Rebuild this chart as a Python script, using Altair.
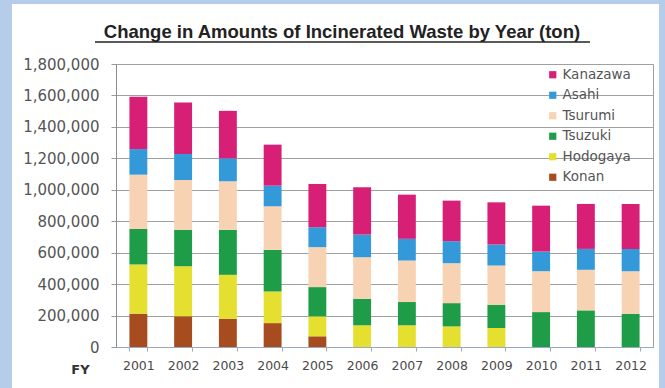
import altair as alt
import pandas as pd

years = ["2001", "2002", "2003", "2004", "2005", "2006", "2007", "2008", "2009", "2010", "2011", "2012"]
konan    = [212000, 195000, 180000, 152000, 68000, 0, 0, 0, 0, 0, 0, 0]
hodogaya = [313000, 319000, 279000, 201000, 127000, 138000, 138000, 131000, 121000, 0, 0, 0]
tsuzuki  = [226000, 231000, 286000, 265000, 186000, 169000, 148000, 148000, 148000, 222000, 233000, 212000]
tsurumi  = [345000, 317000, 309000, 277000, 254000, 264000, 264000, 254000, 249000, 260000, 258000, 270000]
asahi    = [163000, 165000, 146000, 131000, 127000, 144000, 138000, 140000, 134000, 125000, 133000, 142000]
kanazawa = [332000, 328000, 302000, 261000, 275000, 301000, 281000, 258000, 268000, 292000, 286000, 286000]

plants = ["Konan", "Hodogaya", "Tsuzuki", "Tsurumi", "Asahi", "Kanazawa"]
series = [konan, hodogaya, tsuzuki, tsurumi, asahi, kanazawa]
colors = {"Kanazawa": "#d81f76", "Asahi": "#3399d8", "Tsurumi": "#f8d3b3",
          "Tsuzuki": "#1f9c48", "Hodogaya": "#e5e030", "Konan": "#a64c1e"}
legend_order = ["Kanazawa", "Asahi", "Tsurumi", "Tsuzuki", "Hodogaya", "Konan"]
title_text = "Change in Amounts of Incinerated Waste by Year (ton)"

rows = []
for i, (p, vals) in enumerate(zip(plants, series)):
    for y, v in zip(years, vals):
        if v > 0:
            rows.append({"year": y, "plant": p, "tons": v, "idx": i})
df = pd.DataFrame(rows)

W, H = 537, 283
PL, PT, PR, PB = 116, 64, 12, 41

bars = alt.Chart(df).mark_bar().encode(
    x=alt.X("year:N", sort=years,
            scale=alt.Scale(paddingInner=0.6, paddingOuter=0.3),
            axis=alt.Axis(title="FY", labelAngle=0, labelFontSize=12.5, labelColor="#4a4a4a",
                          labelFont="DejaVu Sans", labelPadding=8, tickBand="extent",
                          tickSize=4, tickColor="#9aa8c0", domainColor="#9aa8c0",
                          titleX=-36, titleY=22, titleAlign="center", titleBaseline="middle",
                          titleFontSize=13, titleFont="DejaVu Sans", titleFontWeight="bold",
                          titleColor="#333333", grid=False)),
    y=alt.Y("tons:Q", stack="zero",
            scale=alt.Scale(domain=[0, 1800000], nice=False),
            axis=alt.Axis(title=None, values=list(range(0, 1800001, 200000)), format=",.0f",
                          labelFontSize=15, labelFont="DejaVu Sans", labelColor="#555555",
                          labelPadding=12, tickSize=5, tickColor="#9a9a9a",
                          domainColor="#8a8a8a", gridColor="#a0a0a0", gridWidth=1)),
    color=alt.Color("plant:N",
                    scale=alt.Scale(domain=legend_order, range=[colors[p] for p in legend_order]),
                    legend=alt.Legend(title=None, orient="none", legendX=430, legendY=4,
                                      symbolType="square", symbolSize=52, symbolStrokeWidth=0,
                                      labelFontSize=13.5, labelFont="DejaVu Sans",
                                      labelColor="#555555", rowPadding=5.5, labelOffset=3)),
    order=alt.Order("idx:Q", sort="ascending"),
)

one = pd.DataFrame({"a": [0]})
frame_left = alt.Chart(one).mark_rect(color="#b5cde8").encode(
    x=alt.value(-PL), x2=alt.value(-PL + 12), y=alt.value(-PT), y2=alt.value(H + PB))
frame_top = alt.Chart(one).mark_rect(color="#b5cde8").encode(
    x=alt.value(-PL), x2=alt.value(W + PR), y=alt.value(-PT), y2=alt.value(-PT + 4))
frame_right = alt.Chart(one).mark_rect(color="#b5cde8").encode(
    x=alt.value(W + 6), x2=alt.value(W + PR), y=alt.value(-PT), y2=alt.value(H + PB))

title_mark = alt.Chart(one).mark_text(
    text=title_text, font="Liberation Sans", fontSize=18.5, fontWeight="bold",
    color="#222222", align="center", baseline="alphabetic").encode(
    x=alt.value(342 - PL), y=alt.value(38 - PT))
underline = alt.Chart(one).mark_rule(color="#222222", strokeWidth=1.5).encode(
    x=alt.value(95 - PL), x2=alt.value(590 - PL), y=alt.value(42 - PT))

chart = alt.layer(bars, frame_left, frame_top, frame_right, title_mark, underline).properties(
    width=W, height=H,
    padding={"left": PL, "top": PT, "right": PR, "bottom": PB},
    autosize=alt.AutoSizeParams(type="none"),
    background="white",
).configure_view(stroke="#a0a0a0", strokeWidth=1)

chart.save("out.html", embed_options={"renderer": "svg", "actions": False})
